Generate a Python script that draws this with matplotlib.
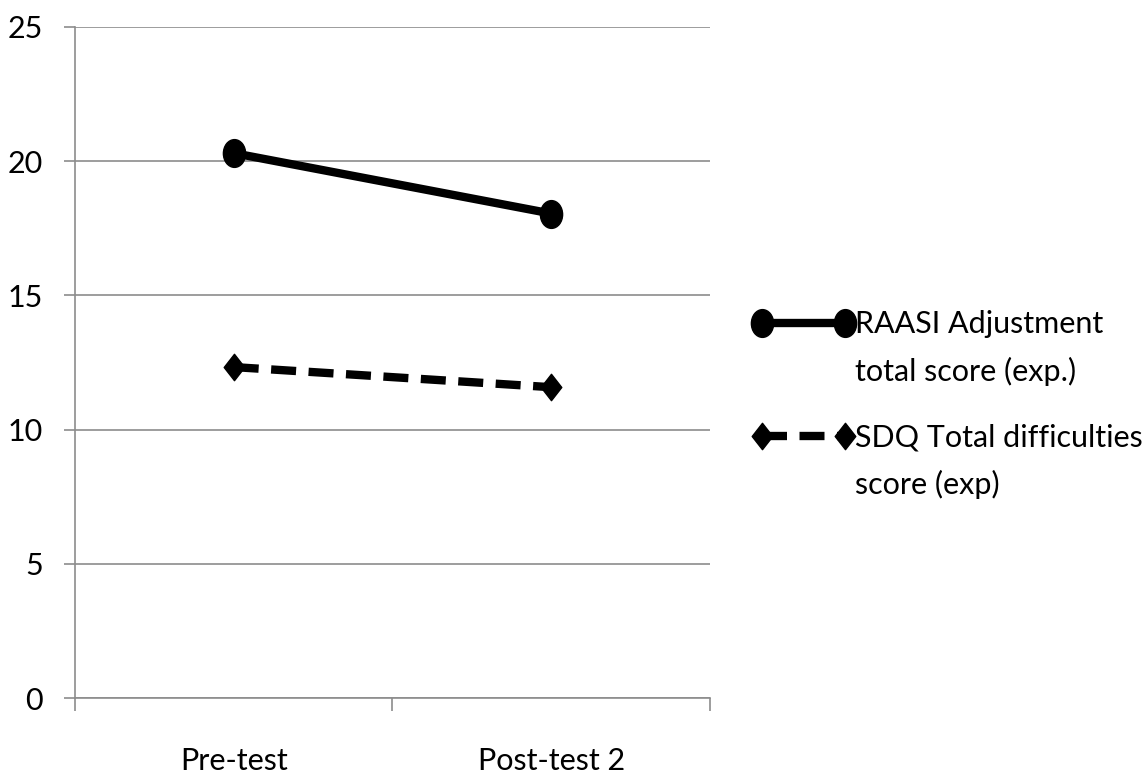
import numpy as np
import matplotlib
matplotlib.use('Agg')
import matplotlib.pyplot as plt
from matplotlib.path import Path
from matplotlib.transforms import Affine2D

phases = ['Pre-test', 'Post-test 2']
raasi = [20.3, 18.05]
sdq = [12.33, 11.58]
raasi_label = ['RAASI Adjustment', 'total score (exp.)']
sdq_label = ['SDQ Total difficulties', 'score (exp)']

plt.rcParams['font.family'] = ['Lato', 'DejaVu Sans']
gray = '#8c8c8c'

# slightly tall markers, like the spreadsheet export
dot = Affine2D().scale(0.8, 1.0).transform_path(Path.unit_circle())
diamond = Path([(0, 1), (0.78, 0), (0, -1), (-0.78, 0), (0, 1)], closed=True)

fig = plt.figure(figsize=(11.46, 7.78), dpi=100)
ax = fig.add_axes([0.0654, 0.1028, 0.5541, 0.8625])

x = np.arange(len(phases)) + 0.5
ax.plot(x, raasi, color='black', lw=6, marker=dot, ms=20, label=raasi_label[0])
ax.plot(x, sdq, color='black', lw=6, ls=(0, (3, 1.5)), dash_capstyle='butt',
        marker=diamond, ms=19, label=sdq_label[0])

ax.set_xlim(0, 2)
ax.set_ylim(0, 25)
ax.set_yticks(range(0, 26, 5))
ax.yaxis.grid(True, color=gray, lw=1.2)
ax.set_axisbelow(True)
for side in ['top', 'right']:
    ax.spines[side].set_visible(False)
for side in ['left', 'bottom']:
    ax.spines[side].set_color(gray)
    ax.spines[side].set_linewidth(1.2)

# ticks on category boundaries, labels in the middle
ax.set_xticks([0, 1, 2])
ax.set_xticklabels([])
ax.set_xticks(x, minor=True)
ax.set_xticklabels(phases, minor=True)
ax.tick_params(axis='x', which='major', length=9, width=1.2, color=gray, direction='out')
ax.tick_params(axis='x', which='minor', length=0, pad=35, labelsize=22)
ax.tick_params(axis='y', length=8, width=1.2, color=gray, pad=15, labelsize=22)

leg = ax.legend(loc='upper left', bbox_to_anchor=(0.657, 0.601),
                bbox_transform=fig.transFigure, frameon=False, fontsize=22,
                numpoints=2, handlelength=3.3, handletextpad=0.05,
                labelspacing=2.8, borderpad=0, borderaxespad=0)

# second line of each legend label, under the first one
# (zorder above the legend so it is placed after the legend is laid out)
for t, extra in zip(leg.get_texts(), [raasi_label[1], sdq_label[1]]):
    ax.annotate(extra, xy=(0, 0), xycoords=t, xytext=(0, -13),
                textcoords='offset points', va='top', ha='left', fontsize=22,
                zorder=10)

fig.savefig('out.png', dpi=100)
